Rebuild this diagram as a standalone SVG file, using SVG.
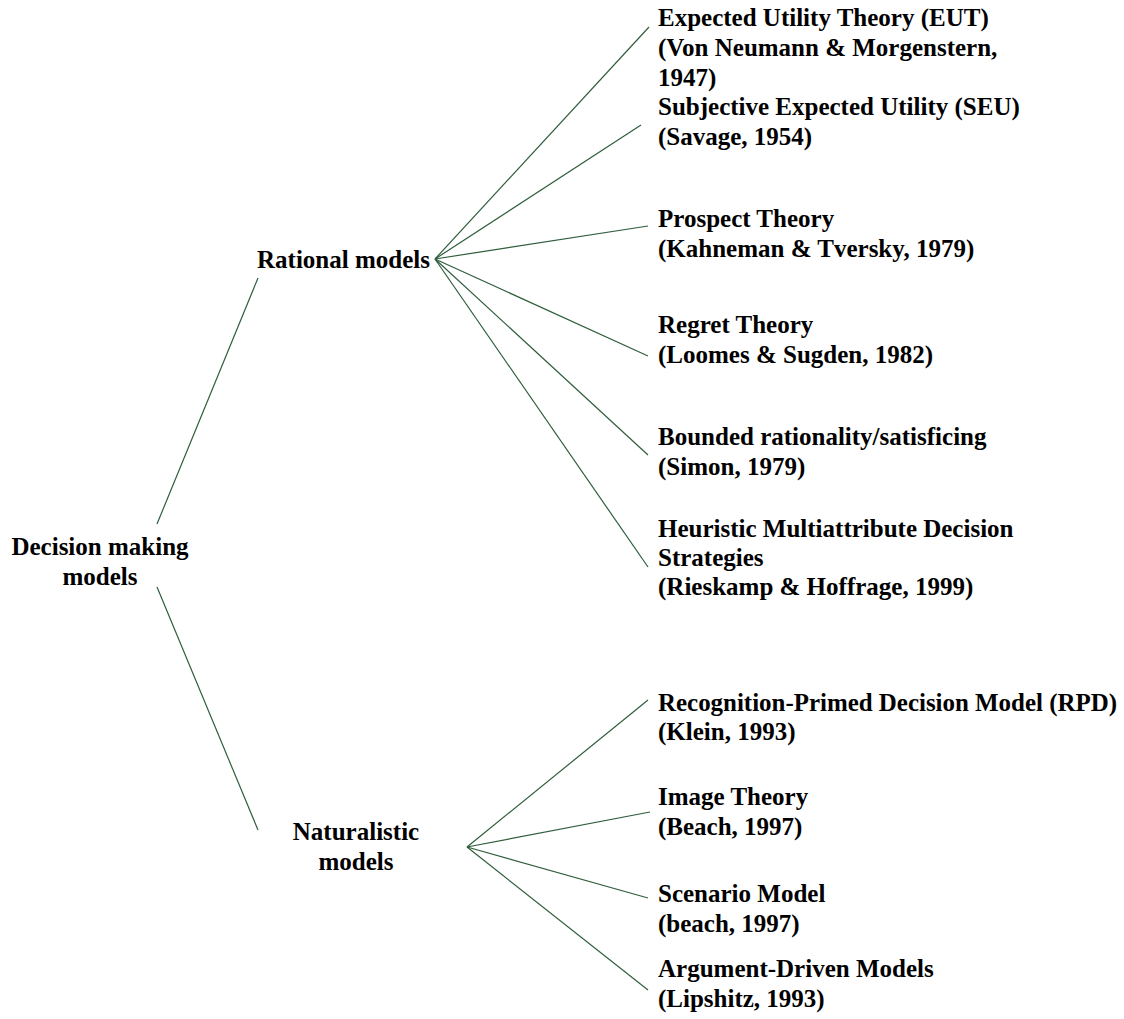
<svg xmlns="http://www.w3.org/2000/svg" width="1124" height="1019" viewBox="0 0 1124 1019">
<style>
text{font-family:"Liberation Serif","Times New Roman",serif;font-weight:bold;font-size:25px;fill:#000}
.c{text-anchor:middle}
#connectors line{stroke:#2f5e3c;stroke-width:1.2;fill:none}
</style>
<rect width="1124" height="1019" fill="#fff"/>
<g id="connectors">
<line x1="157" y1="524" x2="258" y2="278"/>
<line x1="157" y1="587" x2="258" y2="830"/>
<line x1="435" y1="259" x2="649" y2="27"/>
<line x1="435" y1="259" x2="641" y2="125"/>
<line x1="435" y1="259" x2="648" y2="226"/>
<line x1="435" y1="259" x2="648" y2="356"/>
<line x1="435" y1="259" x2="648" y2="455"/>
<line x1="435" y1="259" x2="648" y2="567"/>
<line x1="467" y1="847" x2="648" y2="700"/>
<line x1="467" y1="847" x2="650" y2="812"/>
<line x1="467" y1="847" x2="648" y2="898"/>
<line x1="467" y1="847" x2="648" y2="990"/>
</g>
<g id="root"><text class="c" x="100" y="555">Decision making</text><text class="c" x="100" y="585">models</text></g>
<g id="rational"><text x="257" y="268">Rational models</text></g>
<g id="naturalistic"><text class="c" x="356" y="840">Naturalistic</text><text class="c" x="356" y="870">models</text></g>
<g id="eut"><text x="658" y="26">Expected Utility Theory (EUT)</text><text x="658" y="56">(Von Neumann &amp; Morgenstern,</text><text x="658" y="86">1947)</text></g>
<g id="seu"><text x="658" y="115">Subjective Expected Utility (SEU)</text><text x="658" y="145">(Savage, 1954)</text></g>
<g id="prospect"><text x="658" y="227">Prospect Theory</text><text x="658" y="257">(Kahneman &amp; Tversky, 1979)</text></g>
<g id="regret"><text x="658" y="333">Regret Theory</text><text x="658" y="363">(Loomes &amp; Sugden, 1982)</text></g>
<g id="bounded"><text x="658" y="445">Bounded rationality/satisficing</text><text x="658" y="475">(Simon, 1979)</text></g>
<g id="heuristic"><text x="658" y="537">Heuristic Multiattribute Decision</text><text x="658" y="566">Strategies</text><text x="658" y="595">(Rieskamp &amp; Hoffrage, 1999)</text></g>
<g id="rpd"><text x="658" y="711" textLength="459" lengthAdjust="spacingAndGlyphs">Recognition-Primed Decision Model (RPD)</text><text x="658" y="740">(Klein, 1993)</text></g>
<g id="image"><text x="658" y="805">Image Theory</text><text x="658" y="835">(Beach, 1997)</text></g>
<g id="scenario"><text x="658" y="902">Scenario Model</text><text x="658" y="932">(beach, 1997)</text></g>
<g id="argument"><text x="658" y="977">Argument-Driven Models</text><text x="658" y="1007">(Lipshitz, 1993)</text></g>
</svg>
